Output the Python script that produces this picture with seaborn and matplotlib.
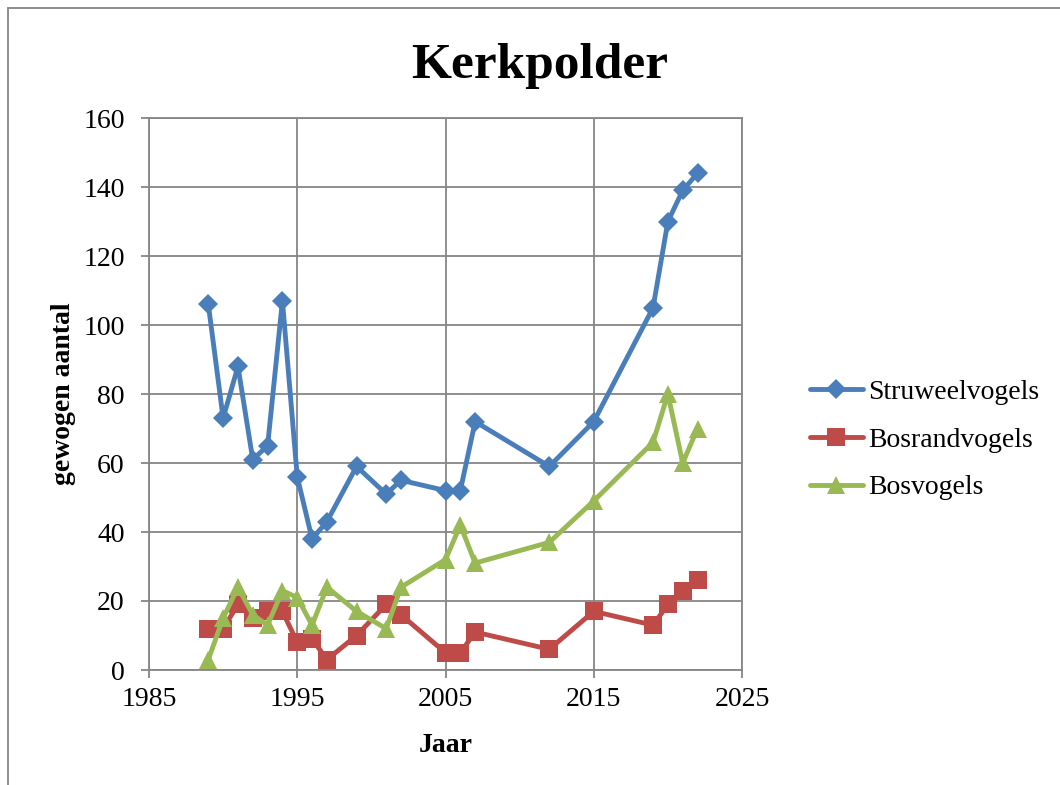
import matplotlib
matplotlib.use("Agg")
import matplotlib.pyplot as plt
import seaborn as sns
import pandas as pd
from matplotlib.patches import Rectangle

years = [1989, 1990, 1991, 1992, 1993, 1994, 1995, 1996, 1997, 1999, 2001,
         2002, 2005, 2006, 2007, 2012, 2015, 2019, 2020, 2021, 2022]
struweelvogels = [106, 73, 88, 61, 65, 107, 56, 38, 43, 59, 51,
                  55, 52, 52, 72, 59, 72, 105, 130, 139, 144]
bosrandvogels = [12, 12, 19, 15, 17, 17, 8, 9, 3, 10, 19,
                 16, 5, 5, 11, 6, 17, 13, 19, 23, 26]
bosvogels = [3, 15, 24, 16, 13, 23, 21, 13, 24, 17, 12,
             24, 32, 42, 31, 37, 49, 66, 80, 60, 70]

series_names = ["Struweelvogels", "Bosrandvogels", "Bosvogels"]
series_values = [struweelvogels, bosrandvogels, bosvogels]
colors = ["#4A7EBB", "#BE4B48", "#98B954"]
markers = ["D", "s", "^"]
msizes = [10, 13, 13]

x_ticks = [1985, 1995, 2005, 2015, 2025]
y_ticks = [0, 20, 40, 60, 80, 100, 120, 140, 160]

sns.set_theme(style="white")
plt.rcParams["font.family"] = ["Liberation Serif", "DejaVu Serif"]
for k in ["text.color", "axes.labelcolor", "xtick.labelcolor", "ytick.labelcolor"]:
    plt.rcParams[k] = "black"

fig = plt.figure(figsize=(10.6, 7.85), dpi=100)
ax = fig.add_axes([149 / 1060, 1 - 670 / 785, (742 - 149) / 1060, (670 - 118) / 785])

for name, vals, c, m, ms in zip(series_names, series_values, colors, markers, msizes):
    df = pd.DataFrame({"Jaar": years, "aantal": vals})
    sns.lineplot(data=df, x="Jaar", y="aantal", ax=ax, color=c, linewidth=3.5,
                 marker=m, markersize=ms, markeredgewidth=0, label=name)

ax.set_xlim(1985, 2025)
ax.set_ylim(0, 160)
ax.set_xticks(x_ticks)
ax.set_yticks(y_ticks)
ax.grid(True, color="#868686", linewidth=1.3)
ax.set_axisbelow(True)
for s in ax.spines.values():
    s.set_color("#868686")
    s.set_linewidth(1.3)
ax.tick_params(axis="both", which="major", direction="out", length=5.5, width=1.3,
               color="#868686", labelsize=20, labelcolor="black",
               left=True, bottom=True)
ax.tick_params(axis="y", pad=12)
ax.tick_params(axis="x", pad=7)

ax.set_xlabel("Jaar", fontsize=20, fontweight="bold", labelpad=15)
ax.set_ylabel("gewogen aantal", fontsize=20, fontweight="bold", labelpad=5)

fig.text(540 / 1060, 1 - 78 / 785, "Kerkpolder", fontsize=37, fontweight="bold",
         ha="center", va="baseline")

leg = ax.legend(loc="center left", bbox_to_anchor=(810 / 1060, 1 - 440 / 785),
                bbox_transform=fig.transFigure, frameon=False, fontsize=20,
                handlelength=1.9, labelspacing=0.8, handletextpad=0.2,
                borderaxespad=0, borderpad=0)

fig.patches.append(Rectangle((8 / 1060, -0.05), 1.1, 1 - 8 / 785 + 0.05,
                             transform=fig.transFigure, fill=False,
                             edgecolor="#868686", linewidth=1.3))

fig.savefig("out.png", dpi=100)
